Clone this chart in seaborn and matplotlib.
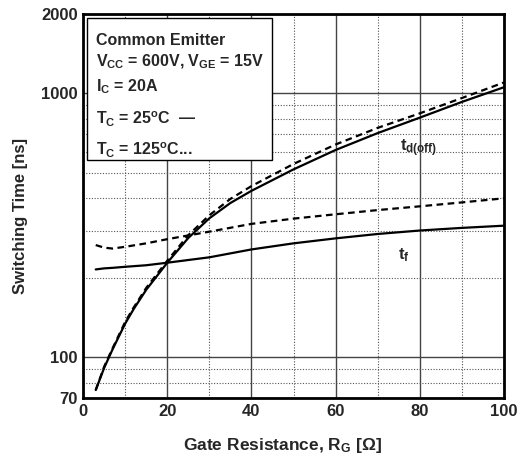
import numpy as np
import pandas as pd
import seaborn as sns
import matplotlib.pyplot as plt
from matplotlib.ticker import FixedLocator, NullFormatter

# gate resistance [ohm]
rg = [3, 5, 7, 10, 12, 15, 20, 25, 30, 35, 40, 50, 60, 70, 80, 90, 100]
# turn-off delay time [ns]
td_25 = [75, 91, 107, 134, 152, 180, 228, 283, 336, 384, 427, 515, 610, 707, 809, 928, 1055]
td_125 = [75, 92, 108, 136, 154, 183, 232, 290, 345, 398, 445, 540, 640, 740, 840, 960, 1100]
# fall time [ns]
rg_f = [3, 5, 7, 10, 15, 20, 30, 40, 50, 60, 70, 80, 90, 100]
tf_25 = [215, 217, 218, 220, 223, 228, 239, 256, 270, 282, 293, 302, 309, 315]
tf_125 = [266, 260, 258, 262, 270, 280, 299, 320, 335, 348, 361, 373, 386, 400]

y_ticks = [70, 100, 1000, 2000]

sns.set_style("white")
plt.rcParams['font.family'] = ['Liberation Sans', 'DejaVu Sans']
plt.rcParams['font.weight'] = 'bold'
plt.rcParams['mathtext.fontset'] = 'custom'
plt.rcParams['mathtext.rm'] = 'Liberation Sans:bold'
plt.rcParams['mathtext.it'] = 'Liberation Sans:bold'
plt.rcParams['mathtext.bf'] = 'Liberation Sans:bold'

frames = []
for name, x, y in [("td25", rg, td_25), ("td125", rg, td_125),
                   ("tf25", rg_f, tf_25), ("tf125", rg_f, tf_125)]:
    frames.append(pd.DataFrame({"rg": x, "t": y, "curve": name}))
df = pd.concat(frames)

fig = plt.figure(figsize=(5.26, 4.59), dpi=100)
ax = fig.add_axes([0.158, 0.133, 0.8, 0.8365])

styles = {"td25": "-", "td125": (0, (3, 2)), "tf25": "-", "tf125": (0, (3, 2))}
for name, sub in df.groupby("curve"):
    sns.lineplot(data=sub, x="rg", y="t", ax=ax, color="black", lw=1.6,
                 linestyle=styles[name], legend=False)

ax.set_yscale("log")
ax.set_xlim(0, 100)
ax.set_ylim(70, 2000)
ax.set_xticks([0, 20, 40, 60, 80, 100])
ax.xaxis.set_minor_locator(FixedLocator([10, 30, 50, 70, 90]))
ax.yaxis.set_major_locator(FixedLocator(y_ticks))
ax.set_yticklabels([str(v) for v in y_ticks])
ax.yaxis.set_minor_locator(FixedLocator([80, 90, 200, 300, 400, 500, 600, 700, 800, 900]))
ax.yaxis.set_minor_formatter(NullFormatter())
ax.tick_params(which="both", length=0, labelsize=12, pad=4)
for lab in ax.get_xticklabels() + ax.get_yticklabels():
    lab.set_fontweight("bold")

ax.grid(which="major", color="#444444", lw=1.0, ls="-")
ax.grid(which="minor", color="#555555", lw=0.8, ls=(0, (1, 1.5)))
for s in ax.spines.values():
    s.set_linewidth(2)
    s.set_color("black")

ax.set_xlabel(r"Gate Resistance, R$_\mathrm{G}$ [$\Omega$]", fontsize=12.5, fontweight="bold")
ax.set_ylabel("Switching Time [ns]", fontsize=12, fontweight="bold")
ax.xaxis.set_label_coords(0.474, -0.10)
ax.yaxis.set_label_coords(-0.13, 0.474)

# condition box
box_lines = [
    "Common Emitter",
    r"V$_\mathrm{CC}$ = 600V, V$_\mathrm{GE}$ = 15V",
    r"I$_\mathrm{C}$ = 20A",
    r"T$_\mathrm{C}$ = 25$^\mathrm{o}$C  —",
    r"T$_\mathrm{C}$ = 125$^\mathrm{o}$C...",
]
ypos = [0.93, 0.875, 0.81, 0.725, 0.645]
rect = plt.Rectangle((0.009, 0.62), 0.441, 0.37, transform=ax.transAxes,
                     facecolor="white", edgecolor="black", lw=1.0, zorder=5)
ax.add_patch(rect)
for t, yy in zip(box_lines, ypos):
    ax.text(0.03, yy, t, transform=ax.transAxes, fontsize=11.5, fontweight="bold",
            va="center", ha="left", zorder=6)

ax.text(75.3, 620, r"t$_\mathrm{d(off)}$", fontsize=12, fontweight="bold", ha="left", va="center")
ax.text(74.8, 243, r"t$_\mathrm{f}$", fontsize=12, fontweight="bold", ha="left", va="center")

fig.savefig("out.png", dpi=100)
